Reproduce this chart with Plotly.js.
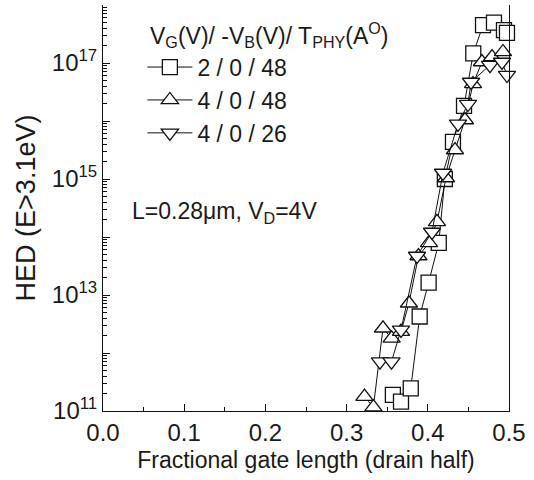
<!DOCTYPE html>
<html>
<head>
<meta charset="utf-8">
<script src="https://cdn.plot.ly/plotly-3.0.1.min.js"></script>
<style>html,body{margin:0;padding:0;background:#fff;}#chart{width:534px;height:480px;}</style>
</head>
<body>
<div id="chart"></div>
<script>
// Series 1: VG=2, -VB=0, Tphy=48 (squares)
const sqX = [0.357, 0.367, 0.379, 0.390, 0.401, 0.4135, 0.421, 0.431, 0.4446, 0.456, 0.468, 0.4815, 0.4938, 0.4975];
const sqY = [1.89e11, 1.45e11, 2.46e11, 4.26e12, 1.64e13, 7.9e13, 1.0e15, 4.35e15, 1.82e16, 1.47e17, 4.5e17, 4.95e17, 3.7e17, 3.3e17];
// Series 2: VG=4, -VB=0, Tphy=48 (up triangles)
const upX = [0.322, 0.333, 0.3448, 0.3555, 0.367, 0.3768, 0.3885, 0.4015, 0.4113, 0.4224, 0.4335, 0.4458, 0.4557, 0.4667, 0.4791, 0.4926];
const upY = [1.77e11, 1.17e11, 2.67e12, 1.79e12, 2.33e12, 7.2e12, 4.7e13, 7.9e13, 1.82e14, 1.04e15, 3.16e15, 1.04e16, 4.35e16, 1.04e17, 1.27e17, 1.55e17];
// Series 3: VG=4, -VB=0, Tphy=26 (down triangles)
const dnX = [0.3411, 0.3553, 0.367, 0.3867, 0.4052, 0.4187, 0.4372, 0.4495, 0.4532, 0.4766, 0.4914, 0.4975];
const dnY = [7.1e11, 7.1e11, 2.5e12, 4.7e13, 1.22e14, 1.27e15, 8.9e15, 1.96e16, 4.7e16, 9.2e16, 1.04e17, 6.2e16];

const seriesNames = ['2 / 0 / 48', '4 / 0 / 48', '4 / 0 / 26'];
const xTickVals = [0, 0.1, 0.2, 0.3, 0.4, 0.5];
const xTickText = ['0.0', '0.1', '0.2', '0.3', '0.4', '0.5'];
const yDecades = [11, 12, 13, 14, 15, 16, 17, 18];
const yLabelled = [11, 13, 15, 17];

const FONT = 'Liberation Sans, Arial, Helvetica, sans-serif';
const TXT = '#1a1a1a';

function mk(x, y, name, symbol, size) {
  return {
    x: x, y: y, name: name, type: 'scatter', mode: 'lines+markers',
    line: {color: '#111', width: 1},
    marker: {symbol: symbol, size: size, color: '#fff', line: {color: '#111', width: 1.3}},
    cliponaxis: false
  };
}

const yTickVals = yDecades.map(d => Math.pow(10, d));
const yTickText = yDecades.map(d => yLabelled.indexOf(d) >= 0 ? '10<sup>' + d + '</sup>' : '');
const yMinor = [];
yDecades.slice(0, -1).forEach(d => { for (let k = 2; k <= 9; k++) yMinor.push(k * Math.pow(10, d)); });

const data = [
  mk(sqX, sqY, seriesNames[0], 'square', 15),
  mk(upX, upY, seriesNames[1], 'triangle-up', 15),
  mk(dnX, dnY, seriesNames[2], 'triangle-down', 15)
];

const layout = {
  width: 534, height: 480,
  margin: {l: 103, r: 25, t: 5, b: 69},
  paper_bgcolor: '#fff', plot_bgcolor: '#fff',
  font: {family: FONT, color: TXT, size: 22},
  showlegend: true,
  legend: {
    x: 0.097, y: 0.9, xanchor: 'left', yanchor: 'top',
    bgcolor: 'rgba(0,0,0,0)', borderwidth: 0,
    font: {family: FONT, size: 23, color: TXT},
    itemwidth: 45, tracegroupgap: 0
  },
  xaxis: {
    range: [0, 0.5], showgrid: false, zeroline: false,
    showline: true, linecolor: '#111', linewidth: 1, mirror: false,
    ticks: 'inside', ticklen: 7, tickcolor: '#111',
    tickmode: 'array', tickvals: xTickVals, ticktext: xTickText,
    tickfont: {family: FONT, size: 24, color: TXT},
    minor: {ticks: 'inside', ticklen: 4, tickcolor: '#111', dtick: 0.05, showgrid: false},
    title: {text: 'Fractional gate length (drain half)', font: {family: FONT, size: 23, color: TXT}, standoff: 7}
  },
  yaxis: {
    type: 'log', range: [11, 18], showgrid: false, zeroline: false,
    showline: true, linecolor: '#111', linewidth: 1, mirror: true,
    ticks: 'inside', ticklen: 7, tickcolor: '#111',
    tickmode: 'array', tickvals: yTickVals, ticktext: yTickText,
    tickfont: {family: FONT, size: 24, color: TXT},
    minor: {ticks: 'inside', ticklen: 4, tickcolor: '#111', tickmode: 'array', tickvals: yMinor, showgrid: false},
    title: {text: 'HED (E>3.1eV)', font: {family: FONT, size: 27, color: TXT}, standoff: 8}
  },
  annotations: [
    {xref: 'paper', yref: 'paper', x: 0.111, y: 0.925, xanchor: 'left', yanchor: 'middle', showarrow: false,
     text: 'V<sub>G</sub>(V)/ -V<sub>B</sub>(V)/ T<sub>PHY</sub>(A<sup>O</sup>)', font: {family: FONT, size: 23, color: TXT}},
    {xref: 'paper', yref: 'paper', x: 0.066, y: 0.49, xanchor: 'left', yanchor: 'middle', showarrow: false,
     text: 'L=0.28μm, V<sub>D</sub>=4V', font: {family: FONT, size: 23, color: TXT}}
  ]
};

Plotly.newPlot('chart', data, layout, {displayModeBar: false, staticPlot: true});
</script>
</body>
</html>
